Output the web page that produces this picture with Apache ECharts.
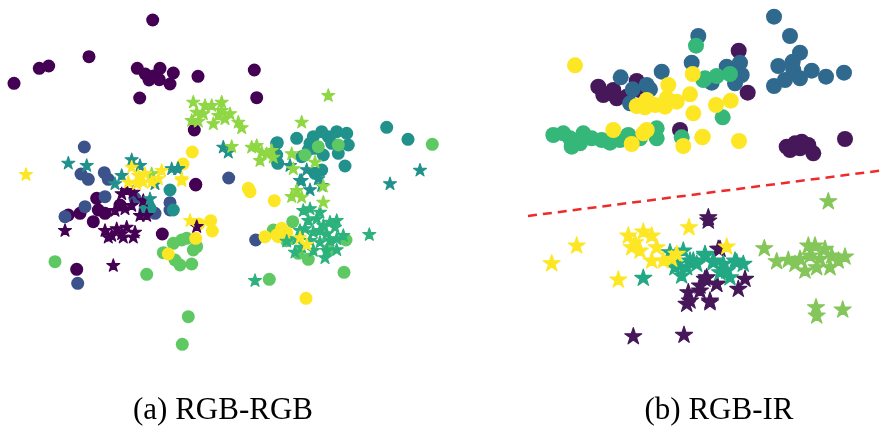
<!DOCTYPE html>
<html>
<head>
<meta charset="utf-8">
<script src="https://cdn.jsdelivr.net/npm/echarts@6/dist/echarts.min.js"></script>
<style>
  html, body { margin: 0; padding: 0; background: #fff; }
  #main { width: 885px; height: 428px; }
</style>
</head>
<body>
<div id="main"></div>
<script>
// coordinates, in picture units (x right, y down)
const captions = ["(a) RGB-RGB", "(b) RGB-IR"];

// ---- (a) RGB-RGB ----
const aPurpleDots = [[152.7,20],[89,56.7],[39.3,68.3],[48.7,66],[14,83.3],[137.3,68.3],[145.3,74],[149,80],[153.3,76],[159.3,79.7],[160,68.3],[173.3,73],[170,84],[198,76.3],[139.7,98],[194.3,130],[254.3,70],[256.7,97.7],[195.7,184.3],[162.3,234],[76.7,269.3],[68.3,215],[80,213.3],[93.3,221.7],[98.3,210],[105,213.3],[96.7,198.3],[120,205],[195.7,185]];
const aBlueDots = [[84.3,147],[77.7,283.3],[228.7,178],[255.7,240],[81,174],[88.3,179.3],[104.3,172.7],[108.3,179.3],[105,196.7],[85,206.7],[65,216.7],[135,198.3],[155,213.3],[170,210],[170,202.7]];
const aTealDots = [[170,190],[173.3,210],[150,208.3],[145,210],[276.7,143.3],[276.7,155],[277.7,163.3],[296.7,138.3],[301.7,156.7],[313.3,136.7],[321.7,131.7],[328.3,136.7],[336.7,131.7],[346.7,133.3],[348.3,145],[338.3,153.3],[323.3,155],[315,148.3],[308.3,150],[345,166],[321.7,170],[315,173.3],[331.7,143.3],[310,143.3],[386.7,127.3],[408,139.3],[277.3,142.7]];
const aGreenDots = [[55,261.7],[146.7,274.3],[188.3,316.7],[182.3,344.3],[173.3,243.3],[181.7,240],[186.7,238.3],[163.3,252.7],[175,260],[180,265],[191.7,264],[193.3,250],[196.7,246.7],[305,155],[318.3,146.7],[338.3,145],[432.3,144.3],[292.7,221.7],[273.3,230],[286.7,240.7],[298.3,253.3],[308.3,259.3],[328.3,250],[346,240],[344,272.3],[269.3,279.3]];
const aYellowDots = [[192.3,152],[183,164],[210.7,220.7],[212.3,231],[195.7,238.3],[168.3,254],[199,224],[248.3,188.3],[250,191.7],[274.3,200.7],[265,236.7],[276.7,235],[281.7,228.3],[286.7,232.7],[278.3,236.7],[306,298.3]];
const aPurpleStars = [[65,230],[105,230],[111.7,235],[116.7,228.3],[121.7,233.3],[126.7,226.7],[135,231.7],[108.3,236.7],[123.3,236.7],[133.3,236.7],[121.7,193.3],[126.7,190],[133.3,191.7],[143.3,200],[125,208.3],[131.7,205],[140,215],[115,210],[146.7,215],[113.3,265],[196.7,226]];
const aTealStars = [[68.3,162.7],[86.7,165],[131.7,159.3],[140,165],[121.7,175],[115,183.3],[171.7,168.3],[178.3,168.3],[150,198.3],[155,183.3],[177.7,168.3],[223.3,146.7],[228.3,151.7],[306.7,169.3],[300,180],[310,189.3],[290,165],[321.7,185],[318.3,178.3],[420,169.7],[390,183.3],[301.7,180]];
const aYellowStars = [[131.7,166.7],[138.3,175],[145,173.3],[128.3,181.7],[136.7,183.3],[151.7,181.7],[158.3,178.3],[161.7,170],[181.7,180],[190,220],[143.3,181.7],[26,174],[181.7,178.3],[300,237.3],[306.7,244]];
const aLimeStars = [[193.3,101.7],[205,105],[211.7,105],[221.7,101.7],[196.7,111.7],[203.3,113.3],[191.7,120],[198.3,120.7],[213.3,123.3],[218.3,115],[225,118.3],[230,113.3],[238.3,121.7],[241.7,127.3],[221.7,110],[328.3,95],[301.7,121.7],[231.7,146],[251.7,146.7],[256.7,145],[261.7,151.7],[266.7,153.3],[260,160],[271.7,150],[273.3,156.7],[291.7,153.3],[293.3,168.3],[315,161.7],[291.7,196],[296.7,190],[301.7,196.7],[323.3,201.7],[323.3,185.7],[151.7,173.3]];
const aEmeraldStars = [[303.3,210],[310,208.3],[320,211.7],[308.3,220],[316.7,218.3],[323.3,225],[330,221.7],[336.7,220],[335,226.7],[300,230],[305,228.3],[313.3,231.7],[320,230],[326.7,233.3],[343.3,235],[296.7,238.3],[310,240],[320,241.7],[330,240],[336.7,238.3],[301.7,246.7],[313.3,250],[295,251.7],[326.7,250],[336.7,249.3],[325,257.3],[369.3,234],[255,280],[286.7,240.7]];

// ---- (b) RGB-IR ----
const bPurpleDots = [[598.3,86.7],[603.3,95],[613.3,90],[616.7,98.3],[636.7,81],[640,90],[626.7,96.7],[680,130],[738.7,50.7],[747.7,92.7],[845,139],[786.7,146.7],[795,143.3],[801.7,141.7],[808.3,145],[813.3,153.3],[800,148.3],[790,150]];
const bBlueDots = [[620.7,77.3],[632.7,89.3],[646.7,85],[650,89.3],[661.7,71.7],[691.7,62.7],[698.3,36],[630,103.3],[774,16.7],[790,36],[800,52.7],[792.7,61.7],[778.3,66],[774,86],[785,80],[793.3,70],[800,78.3],[811.7,70.7],[826,76.7],[844,72.7],[740,62.7],[741.7,75],[735,83.3],[726.7,66.7],[711.7,82.7]];
const bGreenDots = [[696,45.7],[703.3,80],[681.7,137.3],[553.3,135],[563.3,133.3],[570,138.3],[571.7,146.7],[583.3,133.3],[591.7,138.3],[580,143.3],[601.7,140],[610,142.7],[620,140],[628.3,135],[656.7,128.3],[656.7,138.3],[640,138.3],[730,74],[716.7,76],[705,78.3],[722.7,117.3]];
const bYellowDots = [[575,65.3],[668.3,85],[690,94.3],[692.7,74],[693.3,113.3],[702.3,137.3],[683.3,146],[613.3,130],[631.7,144],[643.3,133.3],[646.7,130],[636.7,106],[646.7,100],[655,105],[665,106.7],[666.7,98.3],[676.7,101.7],[645,107.3],[716,105],[730.7,100.7],[702.7,136.7],[739,141]];
const bYellowStars = [[551.7,262.7],[576.7,245],[618.3,279],[689,226.7],[628.3,235],[635,241.7],[643.3,231],[651.7,235],[640,250],[656.7,246.7],[651.7,260],[663.3,260],[676.7,253.3],[671.7,258.3],[631.7,246.7],[726.7,246]];
const bEmeraldStars = [[643.3,277.3],[670,251.7],[683.3,250],[675,266.7],[686.7,266.7],[681.7,275],[693.3,260],[676.7,263.3],[690,260],[696.7,263.3],[705,253.3],[713.3,261.7],[723.3,263.3],[736.7,261.7],[743.3,263.3],[730,276.7],[720,271.7],[705,255],[735,260],[726.7,270],[713.3,260]];
const bPurpleStars = [[633.3,335.7],[684,334.3],[688.3,291.7],[690,300],[686.7,303.3],[700,290],[710,300],[706.7,276.7],[716.7,283.3],[738.3,288.3],[745,278.3],[720,248.3],[708.3,220],[708.3,216.7],[718.3,248.3],[705,278.3],[716.7,283.3],[710,301.7],[700,285]];
const bLimeStars = [[828.3,200.7],[764.3,247.7],[776.7,260.7],[788.3,259.3],[800,258.3],[805,270],[808.3,245],[815,245],[810,255],[820,258.3],[825,248.3],[831.7,255],[830,266.7],[838.3,260],[845,256],[816.7,266.7],[795,263.3],[816,306.7],[816.7,315],[842.7,309]];
const separator = [[528,216],[885,170]];

const star = "path://M50,0 L61.2,34.55 L97.55,34.55 L68.16,55.9 L79.4,90.45 L50,69.1 L20.6,90.45 L31.84,55.9 L2.45,34.55 L38.8,34.55 Z";

function dots(data, color, size) {
  return { type: "scatter", data: data, symbol: "circle", symbolSize: size,
    itemStyle: { color: color, opacity: 1 }, silent: true };
}
function stars(data, color, size) {
  // thin outline in the same colour makes the stars as chunky as the original markers
  return { type: "scatter", data: data, symbol: star, symbolSize: size, symbolKeepAspect: true,
    itemStyle: { color: color, opacity: 1, borderColor: color, borderWidth: 1.2, borderJoin: "round" },
    silent: true };
}

const chart = echarts.init(document.getElementById("main"));
chart.setOption({
  backgroundColor: "#fff",
  animation: false,
  grid: { left: 0, right: 0, top: 0, bottom: 0 },
  xAxis: { type: "value", min: 0, max: 885, show: false },
  yAxis: { type: "value", min: 0, max: 428, inverse: true, show: false },
  title: [
    { text: captions[0], left: 218, top: 390, textAlign: "center",
      textStyle: { fontFamily: "Liberation Serif", fontWeight: "normal", fontSize: 31, color: "#000" } },
    { text: captions[1], left: 714, top: 390, textAlign: "center",
      textStyle: { fontFamily: "Liberation Serif", fontWeight: "normal", fontSize: 31, color: "#000" } }
  ],
  series: [
    dots(aPurpleDots, "#440154", 13),
    dots(aBlueDots, "#3b528b", 13),
    dots(aTealDots, "#21918c", 13),
    dots(aGreenDots, "#5ec962", 13),
    dots(aYellowDots, "#fde725", 13),
    stars(aPurpleStars, "#440154", 13),
    stars(aTealStars, "#21918c", 13),
    stars(aEmeraldStars, "#2db27d", 13),
    stars(aLimeStars, "#8fd744", 13),
    stars(aYellowStars, "#fde725", 13),
    dots(bPurpleDots, "#46185a", 16),
    dots(bBlueDots, "#30698e", 16),
    dots(bGreenDots, "#35b779", 16),
    dots(bYellowDots, "#fde725", 16),
    stars(bPurpleStars, "#46185a", 17),
    stars(bEmeraldStars, "#22a884", 17),
    stars(bLimeStars, "#84c65a", 17),
    stars(bYellowStars, "#fde725", 17),
    { type: "line", data: separator, symbol: "none", silent: true,
      lineStyle: { color: "#ee2a2a", width: 2.5, type: [9, 6] } }
  ]
});
</script>
</body>
</html>
